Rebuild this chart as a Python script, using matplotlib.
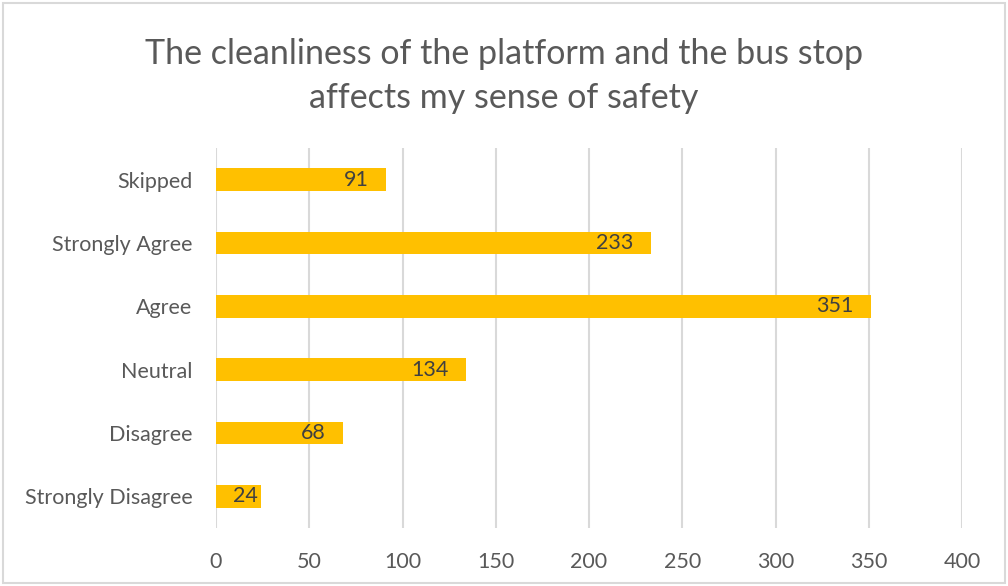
import matplotlib
matplotlib.use("Agg")
import matplotlib.pyplot as plt
from matplotlib.patches import Rectangle

plt.rcParams['font.family'] = ['Lato', 'DejaVu Sans']

# survey answers, top to bottom as shown
categories = ['Skipped', 'Strongly Agree', 'Agree', 'Neutral', 'Disagree', 'Strongly Disagree']
counts = [91, 233, 351, 134, 68, 24]
x_ticks = [0, 50, 100, 150, 200, 250, 300, 350, 400]
title = 'The cleanliness of the platform and the bus stop\naffects my sense of safety'

bar_color = '#FFC000'
text_color = '#595959'
grid_color = '#D9D9D9'

fig = plt.figure(figsize=(10.08, 5.86), dpi=100)
ax = fig.add_axes([216 / 1008, 1 - 528 / 586, (962 - 216) / 1008, (528 - 148) / 586])

ypos = list(range(len(categories)))[::-1]
ax.barh(ypos, counts, height=0.36, color=bar_color, zorder=2)

ax.set_xlim(0, 400)
ax.set_ylim(-0.5, len(categories) - 0.5)

# value labels inside the bar end; pushed right when the bar is too short
renderer = fig.canvas.get_renderer()
gap = 17  # pixels
for y, v in zip(ypos, counts):
    t = ax.annotate(str(v), xy=(v, y), xytext=(-gap * 72 / 100, 0), textcoords='offset points',
                    ha='right', va='center', fontsize=15.5, color='#404040', zorder=3)
    bb = t.get_window_extent(renderer)
    x0 = ax.transData.transform((0, y))[0]
    if bb.x0 < x0 + gap:
        t.xyann = (t.xyann[0] + (x0 + gap - bb.x0) * 72 / 100, 0)

ax.set_xticks(x_ticks)
ax.set_yticks(ypos)
ax.set_yticklabels(categories)
ax.tick_params(axis='both', length=0, labelsize=15.5, labelcolor=text_color)
ax.tick_params(axis='x', pad=17)
ax.tick_params(axis='y', pad=17)
ax.grid(axis='x', color=grid_color, linewidth=1.5, zorder=0)
for s in ax.spines.values():
    s.set_visible(False)

fig.text(0.5, 1 - 76 / 586, title, ha='center', va='center', fontsize=24.5,
         color=text_color, linespacing=1.47)

# light frame round the whole chart
fig.patches.append(Rectangle((0.003, 0.005), 0.994, 0.99, transform=fig.transFigure,
                             fill=False, edgecolor=grid_color, linewidth=1.5))

fig.savefig('out.png', dpi=100)
